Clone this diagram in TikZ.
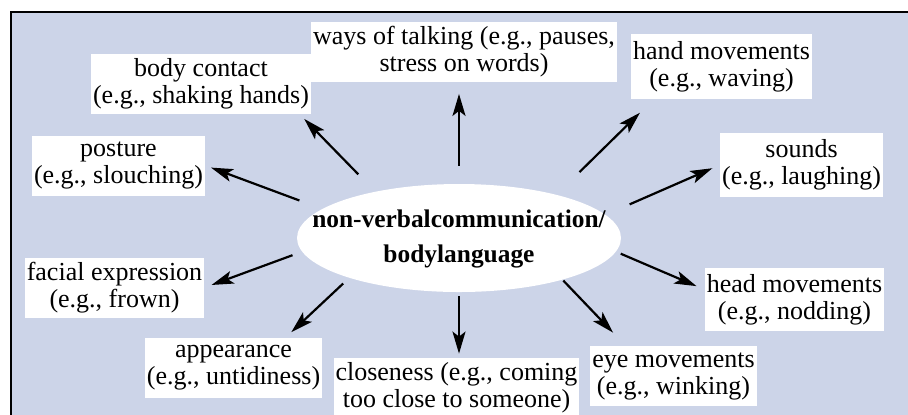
\documentclass[tikz,border=0pt]{standalone}
\usepackage{fontspec}
\setmainfont{Liberation Serif}
\usetikzlibrary{arrows.meta, shapes.geometric}
\definecolor{panel}{RGB}{204,212,232}
\tikzset{
  item/.style={fill=white, align=center, inner xsep=1pt, inner ysep=0pt, minimum height=30pt, font=\fontsize{13}{13.5}\selectfont},
  hub/.style={ellipse, fill=white, inner sep=0pt, minimum width=162pt, minimum height=54pt, font=\fontsize{12.7}{17.5}\selectfont\bfseries},
  arr/.style={-{Stealth[length=11pt, width=6.5pt, inset=2.5pt]}, line width=1.1pt}
}
\begin{document}
\begin{tikzpicture}[x=0.5pt, y=-0.5pt]
\useasboundingbox (0,0) rectangle (908,414);
\clip (0,0) rectangle (908,414);
\fill[panel] (11,12) rectangle (930,440);
\draw[line width=0.75pt] (930,12) -- (11,12) -- (11,440);

\node[hub] (c) at (459,238) {\makebox[0pt]{\begin{tabular}{@{}c@{}}non-verbalcommunication/\\ bodylanguage\end{tabular}}};

\node[item] (ways) at (464,51.5) {ways of talking (e.g., pauses,\\ stress on words)};
\node[item, minimum height=32.5pt] (hand) at (721.5,66.5) {hand movements\\ (e.g., waving)};
\node[item, minimum height=32pt] (sounds) at (801.5,165) {sounds\\ (e.g., laughing)};
\node[item, minimum height=31.5pt] (head) at (794.5,299.5) {head movements\\ (e.g., nodding)};
\node[item] (eye) at (673.5,376) {eye movements\\ (e.g., winking)};
\node[item] (close) at (456.5,388) {closeness (e.g., coming\\ too close to someone)};
\node[item] (app) at (233.5,368) {appearance\\ (e.g., untidiness)};
\node[item] (face) at (114.5,287.5) {facial expression\\ (e.g., frown)};
\node[item] (posture) at (118.5,165.5) {posture\\ (e.g., slouching)};
\node[item] (contact) at (201,83.5) {body contact\\ (e.g., shaking hands)};

\draw[arr, shorten <=9pt, shorten >=6pt] (c.north) -- (c.north |- ways.south);
\draw[arr, shorten <=16pt, shorten >=9.5pt] (c.24.8) -- ([xshift=-34pt]hand.south);
\draw[arr, shorten <=13pt, shorten >=4pt] (c.9.9) -- (sounds.west);
\draw[arr, shorten <=2.5pt, shorten >=4.3pt] (c.-5.5) -- ([yshift=5pt]head.west);
\draw[arr, shorten <=0.5pt, shorten >=9pt] (c.-22) -- ([xshift=-24pt]eye.north);
\draw[arr, shorten <=2pt, shorten >=2pt] (c.south) -- (c.south |- close.north);
\draw[arr, shorten <=4pt, shorten >=4pt] (c.-160.8) -- ([xshift=26pt]app.north);
\draw[arr, shorten <=5pt, shorten >=3.7pt] (c.-175.3) -- (face.east);
\draw[arr, shorten <=12pt, shorten >=3pt] (c.168.1) -- (posture.east);
\draw[arr, shorten <=12pt, shorten >=3.5pt] (c.151.6) -- ([xshift=-6pt]contact.south east);
\end{tikzpicture}
\end{document}
